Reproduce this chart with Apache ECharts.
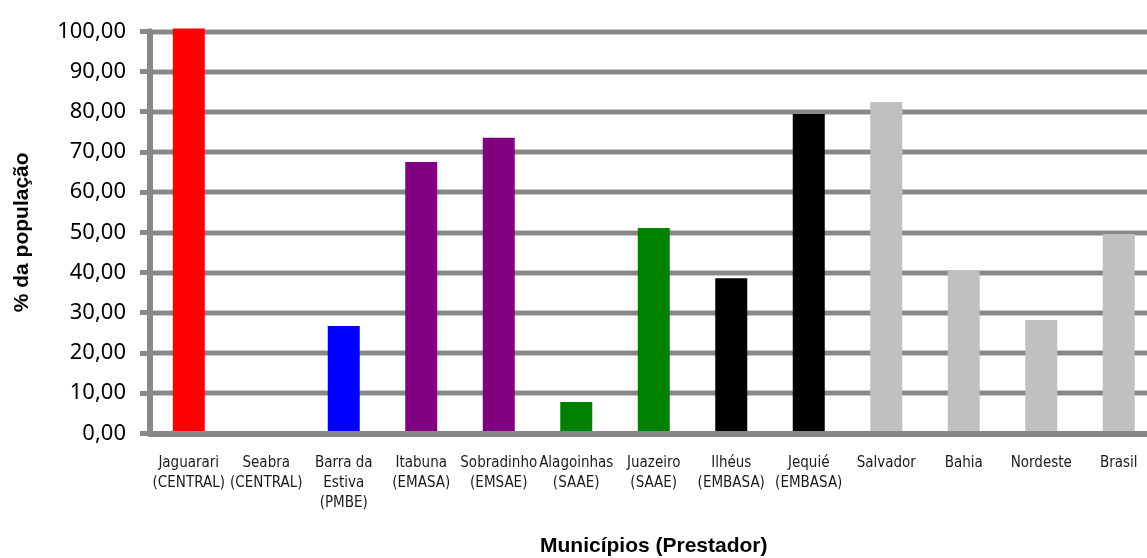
<!DOCTYPE html>
<html>
<head>
<meta charset="utf-8">
<script src="https://cdn.jsdelivr.net/npm/echarts@6/dist/echarts.min.js"></script>
<style>
  html, body { margin: 0; padding: 0; background: #fff; }
  #chart { width: 1147px; height: 558px; }
</style>
</head>
<body>
<div id="chart"></div>
<script>
// Municípios (prestador) and the share of the population served, in %
const categories = [
  'Jaguarari\n(CENTRAL)', 'Seabra\n(CENTRAL)', 'Barra da\nEstiva\n(PMBE)',
  'Itabuna\n(EMASA)', 'Sobradinho\n(EMSAE)', 'Alagoinhas\n(SAAE)',
  'Juazeiro\n(SAAE)', 'Ilhéus\n(EMBASA)', 'Jequié\n(EMBASA)',
  'Salvador', 'Bahia', 'Nordeste', 'Brasil'
];
const values = [100.7, 0, 26.7, 67.5, 73.5, 7.8, 51.1, 38.6, 79.4, 82.4, 40.6, 28.2, 49.6];
const barColors = [
  '#ff0000', '#ff0000', '#0000ff', '#800080', '#800080', '#008000',
  '#008000', '#000000', '#000000', '#c0c0c0', '#c0c0c0', '#c0c0c0', '#c0c0c0'
];
const yTicks = [0, 10, 20, 30, 40, 50, 60, 70, 80, 90, 100];

const chart = echarts.init(document.getElementById('chart'), null, { renderer: 'canvas' });

const fmt = v => v.toFixed(2).replace('.', ',');

chart.setOption({
  backgroundColor: '#ffffff',
  animation: false,
  grid: {
    left: 150, top: 31.3, width: 1007.5, height: 402,
    containLabel: false,
    outerBoundsMode: 'none'
  },
  xAxis: {
    type: 'category',
    data: categories,
    name: 'Municípios (Prestador)',
    nameLocation: 'middle',
    nameGap: 102,
    nameTextStyle: {
      fontFamily: 'Liberation Sans', fontWeight: 'bold', fontSize: 21, color: '#000'
    },
    axisLine: { show: true, lineStyle: { color: '#888888', width: 6 } },
    axisTick: { show: false },
    axisLabel: {
      interval: 0,
      margin: 20,
      fontFamily: '"DejaVu Sans Condensed", "Liberation Sans", sans-serif',
      fontSize: 15,
      lineHeight: 20,
      color: '#1a1a1a'
    },
    z: 3
  },
  yAxis: [
    {
      type: 'value',
      min: yTicks[0],
      max: yTicks[yTicks.length - 1],
      interval: 10,
      name: '% da população',
      nameLocation: 'middle',
      nameGap: 117,
      nameRotate: 90,
      nameTextStyle: {
        fontFamily: 'Liberation Sans', fontWeight: 'bold', fontSize: 21, color: '#000'
      },
      axisLine: { show: true, lineStyle: { color: '#888888', width: 6 } },
      axisTick: { show: true, length: 10, lineStyle: { color: '#888888', width: 5 } },
      axisLabel: {
        margin: 24,
        fontFamily: 'Noto Sans',
        fontSize: 22,
        color: '#000',
        padding: [0, 0, 5, 0],
        formatter: fmt
      },
      splitLine: { show: true, lineStyle: { color: '#888888', width: 4 } },
      z: 1
    },
    {
      // soft halo behind the grid lines
      type: 'value',
      position: 'left',
      min: yTicks[0],
      max: yTicks[yTicks.length - 1],
      interval: 10,
      axisLine: { show: false },
      axisTick: { show: false },
      axisLabel: { show: false },
      splitLine: { show: true, lineStyle: { color: '#c8c8c8', width: 6 } },
      z: 0
    }
  ],
  series: [{
    type: 'bar',
    yAxisIndex: 0,
    data: values.map((v, i) => ({ value: v, itemStyle: { color: barColors[i] } })),
    barWidth: 32,
    clip: false,
    z: 2
  }]
});
</script>
</body>
</html>
